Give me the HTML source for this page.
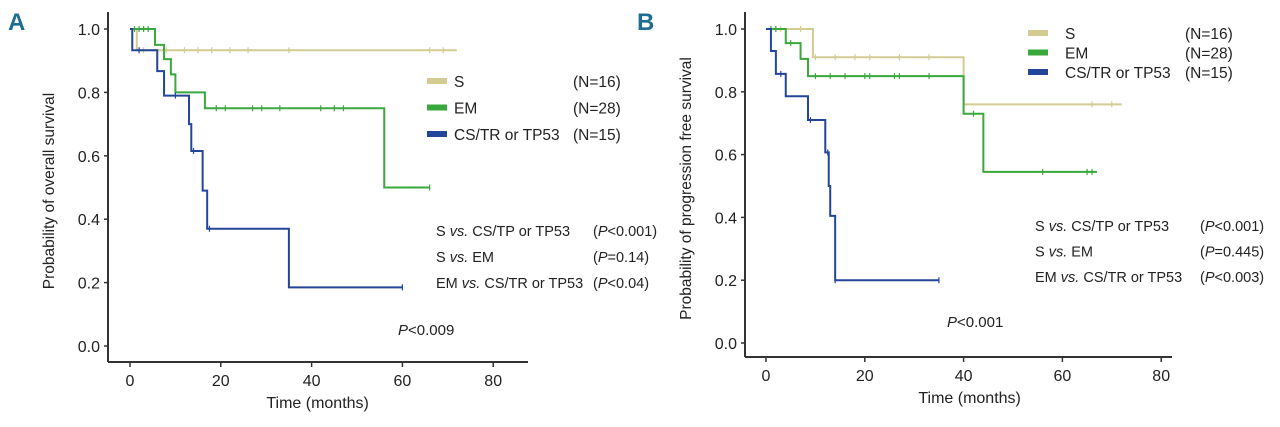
<!DOCTYPE html>
<html><head><meta charset="utf-8"><style>
body{margin:0;background:#fff;width:1280px;height:422px;overflow:hidden;font-family:"Liberation Sans",sans-serif}
svg text{font-family:"Liberation Sans",sans-serif;fill:#222}
</style></head><body>
<svg id="c" width="1280" height="422" xmlns="http://www.w3.org/2000/svg"></svg>
<script>
const xTicks=[0,20,40,60,80];
const yTicks=[0.0,0.2,0.4,0.6,0.8,1.0];
// Panel A: [time, survival] step points
const aS=[[0,1],[1.5,0.933],[72,0.933]];
const aEM=[[0,1],[5.5,0.95],[7.5,0.905],[9,0.857],[10,0.80],[16.5,0.75],[56,0.5],[66,0.5]];
const aCS=[[0,1],[0.5,0.933],[6,0.867],[7.5,0.79],[13,0.70],[13.5,0.615],[16,0.49],[17,0.37],[35,0.185],[60,0.185]];
const aCensS=[3,8,12,15,18,22,26,35,66,69];
const aCensEM=[1,2,3,4,19,21,27,29,33,42,45,47,66];
const aCensCS=[2,10,14,17.5,60];
// Panel B
const bS=[[0,1],[9.5,0.91],[40,0.76],[72,0.76]];
const bEM=[[0,1],[4,0.955],[7,0.905],[8.5,0.85],[40,0.73],[44,0.545],[67,0.545]];
const bCS=[[0,1],[1,0.93],[2,0.857],[4,0.786],[8.5,0.71],[12,0.607],[12.7,0.5],[13,0.405],[14,0.2],[35,0.2]];
const bCensS=[1,2,3,7,10,14,18,21,27,33,66,70];
const bCensEM=[1,2,5,10,13,16,20,21,26,27,33,42,56,65,66];
const bCensCS=[3,9,12.5,14,35];

const colS='#d4cb93',colEM='#39a83d',colCS='#23459a';
const svg=document.getElementById('c');
const NS='http://www.w3.org/2000/svg';
function el(t,a,txt){const e=document.createElementNS(NS,t);for(const k in a)e.setAttribute(k,a[k]);if(txt!==undefined)e.textContent=txt;svg.appendChild(e);return e;}

function panel(p){
  const sx=v=>p.x0+v*p.kx, sy=v=>p.y1-v*(p.y1-p.y0);
  let e;
  e=el('line',{x1:p.ax,y1:12,x2:p.ax,y2:p.axY,stroke:'#333','stroke-width':2});
  
  
  e=el('line',{x1:p.ax,y1:p.axY,x2:p.axEnd,y2:p.axY,stroke:'#333','stroke-width':2});
  
  
  yTicks.forEach(v=>{
    el('line',{x1:p.ax-4,y1:sy(v),x2:p.ax,y2:sy(v),stroke:'#333','stroke-width':1.5});
    e=el('text',{x:p.ax-8,y:sy(v)+6,'text-anchor':'end','font-size':16},v.toFixed(1));
    
    
  });
  xTicks.forEach(v=>{
    el('line',{x1:sx(v),y1:p.axY,x2:sx(v),y2:p.axY+5,stroke:'#333','stroke-width':1.5});
    e=el('text',{x:sx(v),y:p.axY+24,'text-anchor':'middle','font-size':16},v);
    
    
  });
  e=el('text',{x:(sx(0)+sx(80))/2+6,y:p.axY+46,'text-anchor':'middle','font-size':16},'Time (months)');
  
  
  const ty=(20+p.axY)/2;
  e=el('text',{x:p.ax-54,y:ty,'text-anchor':'middle','font-size':15.5,transform:`rotate(-90 ${p.ax-54} ${ty})`},p.ytitle);
  
  
  e=el('text',{x:p.lx,y:30,'font-size':24,'font-weight':'bold',style:'fill:#1d6e92'},p.letter);
  
  
  function surv(pts,t){let s=1;for(const q of pts){if(q[0]<=t)s=q[1];}return s;}
  p.series.forEach(sr=>{
    let d='M'+sx(sr.pts[0][0])+','+sy(sr.pts[0][1]);
    for(let i=1;i<sr.pts.length;i++){d+='H'+sx(sr.pts[i][0])+'V'+sy(sr.pts[i][1]);}
    e=el('path',{d:d,fill:'none',stroke:sr.col,'stroke-width':2});
    
    
    sr.cens.forEach(t=>{
      const y=sy(surv(sr.pts,t));
      e=el('line',{x1:sx(t),y1:y-3,x2:sx(t),y2:y+3,stroke:sr.col,'stroke-width':1.2});
      
      
    });
  });
  p.legend.forEach((l,i)=>{
    const y=p.legY+i*p.legDy;
    e=el('rect',{x:p.legX,y:y-3,width:20,height:6,fill:l[2]});
    
    
    e=el('text',{x:p.legX+p.legTx,y:y+6,'font-size':15.5},l[0]);
    
    
    e=el('text',{x:p.legNx,y:y+6,'font-size':15.5},l[1]);
    
    
  });
  p.stats.forEach((s,i)=>{
    const y=p.stY+i*p.stDy;
    e=el('text',{x:p.stX,y:y,'font-size':14.5});
    e.innerHTML=s[0];
    
    
    e=el('text',{x:p.stPx,y:y,'font-size':14.5});
    e.innerHTML=s[1];
    
    
  });
  e=el('text',{x:p.pX,y:p.pY,'font-size':15});
  e.innerHTML=p.pTxt;
  
  
}
const it=s=>'<tspan font-style="italic">'+s+'</tspan>';
panel({id:'panel-a',letter:'A',lx:8,x0:130,kx:4.54,y0:29,y1:346,ax:108,axY:362,axEnd:528,
  ytitle:'Probability of overall survival',
  series:[{name:'s',pts:aS,col:colS,cens:aCensS},{name:'em',pts:aEM,col:colEM,cens:aCensEM},{name:'cs',pts:aCS,col:colCS,cens:aCensCS}],
  legend:[['S','(N=16)',colS],['EM','(N=28)',colEM],['CS/TR or TP53','(N=15)',colCS]],
  legX:427,legY:81,legDy:26.5,legTx:27,legNx:573,
  stats:[['S '+it('vs.')+' CS/TP or TP53','('+it('P')+'&lt;0.001)'],['S '+it('vs.')+' EM','('+it('P')+'=0.14)'],['EM '+it('vs.')+' CS/TR or TP53','('+it('P')+'&lt;0.04)']],
  stX:436,stY:236,stDy:26,stPx:593,pX:398,pY:335,pTxt:it('P')+'&lt;0.009'});
panel({id:'panel-b',letter:'B',lx:637,x0:766,kx:4.94,y0:29,y1:343,ax:745,axY:357,axEnd:1172,
  ytitle:'Probability of progression free survival',
  series:[{name:'s',pts:bS,col:colS,cens:bCensS},{name:'em',pts:bEM,col:colEM,cens:bCensEM},{name:'cs',pts:bCS,col:colCS,cens:bCensCS}],
  legend:[['S','(N=16)',colS],['EM','(N=28)',colEM],['CS/TR or TP53','(N=15)',colCS]],
  legX:1028,legY:33,legDy:19.5,legTx:37,legNx:1185,
  stats:[['S '+it('vs.')+' CS/TP or TP53','('+it('P')+'&lt;0.001)'],['S '+it('vs.')+' EM','('+it('P')+'=0.445)'],['EM '+it('vs.')+' CS/TR or TP53','('+it('P')+'&lt;0.003)']],
  stX:1035,stY:231,stDy:25.5,stPx:1200,pX:947,pY:327,pTxt:it('P')+'&lt;0.001'});
</script>
</body></html>
